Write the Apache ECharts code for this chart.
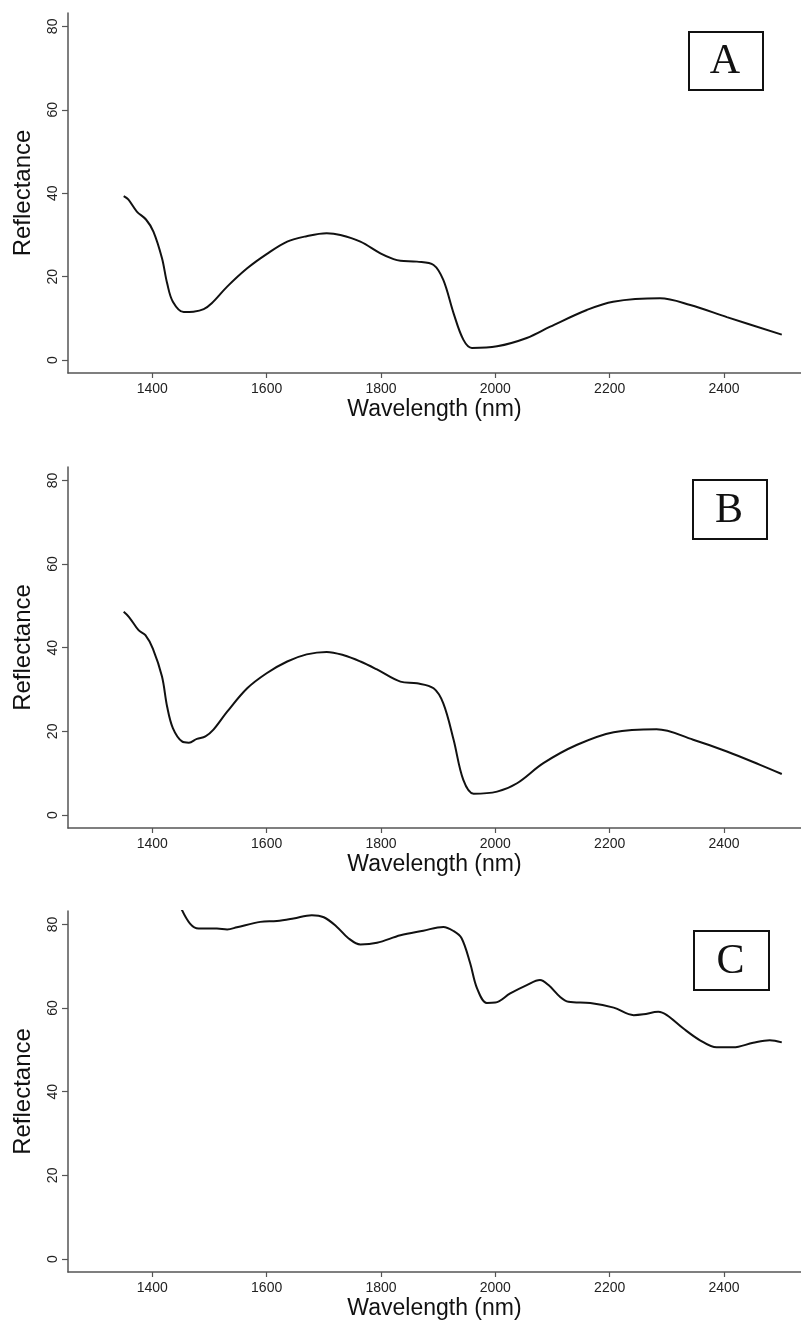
<!DOCTYPE html>
<html>
<head>
<meta charset="utf-8">
<script src="https://cdn.jsdelivr.net/npm/echarts@6/dist/echarts.min.js"></script>
<style>
html,body{margin:0;padding:0;background:#fff;}
#c{width:801px;height:1321px;}
</style>
</head>
<body>
<div id="c"></div>
<script>
// Panel A
var wlA  = [1350,1358,1373,1389,1402,1417,1426,1436,1455,1472,1490,1504,1531,1566,1600,1636,1670,1705,1729,1764,1799,1822,1834,1863,1892,1909,1927,1944,1959,2003,2055,2096,2160,2206,2288,2341,2405,2501];
var refA = [39.3,38.5,35.6,33.7,30.8,24.4,18.4,14.0,11.5,11.6,12.2,13.6,17.6,22.0,25.4,28.4,29.7,30.4,30.0,28.4,25.6,24.2,23.8,23.6,22.8,19.2,11.2,4.9,2.9,3.3,5.3,8.0,12.0,14.0,14.8,13.2,10.3,6.1];
// Panel B
var wlB  = [1350,1359,1376,1388,1401,1417,1426,1436,1452,1464,1478,1493,1507,1531,1566,1600,1636,1670,1705,1735,1764,1793,1834,1863,1892,1909,1927,1944,1962,2003,2038,2084,2143,2207,2282,2346,2405,2463,2501];
var refB = [48.6,47.4,44.2,43.0,39.8,33.1,25.9,20.8,17.6,17.3,18.2,18.8,20.4,24.7,30.3,33.9,36.7,38.4,39.0,38.2,36.7,34.8,31.9,31.5,30.3,26.7,18.0,8.4,5.1,5.6,7.6,12.4,16.8,19.8,20.5,18.0,15.2,12.0,9.8];
// Panel C
var wlC  = [1450,1466,1481,1513,1531,1548,1589,1618,1647,1679,1700,1723,1743,1764,1793,1834,1874,1909,1927,1941,1956,1968,1985,2000,2026,2055,2078,2093,2113,2128,2166,2207,2242,2259,2285,2300,2329,2358,2387,2416,2451,2480,2501];
var refC = [84.0,80.2,79.0,79.0,78.8,79.3,80.6,80.8,81.4,82.2,81.7,79.4,76.7,75.2,75.6,77.4,78.5,79.4,78.4,76.7,70.7,64.7,61.2,61.3,63.5,65.5,66.7,65.5,62.7,61.5,61.2,60.1,58.3,58.5,59.1,58.3,55.1,52.3,50.6,50.6,51.7,52.3,51.8];

var xTicks = [1400,1600,1800,2000,2200,2400];
var yTicks = [0,20,40,60,80];
var panelLabels = ['A','B','C'];
var xTitle = 'Wavelength (nm)';
var yTitle = 'Reflectance';

function zip(a,b){ return a.map(function(v,i){ return [v,b[i]]; }); }

var grids = [
  {left:68, right:0, top:13, height:360},
  {left:68, right:0, top:467, height:361},
  {left:68, right:0, top:911, height:361}
];
var axisColor = '#555';
var font = '"Liberation Sans", Arial, sans-serif';
function plain(v){ return String(v); }

var xAxes = grids.map(function(g,i){
  return {
    type:'value', gridIndex:i, min:1252.6, max:2534.6,
    axisLine:{show:true, onZero:false, lineStyle:{color:axisColor, width:1.5}},
    axisTick:{show:true, length:5, customValues:xTicks, lineStyle:{color:axisColor, width:1.2}},
    axisLabel:{customValues:xTicks, formatter:plain, margin:9, color:'#222', fontSize:14, fontFamily:font},
    splitLine:{show:false},
    name:xTitle, nameLocation:'middle', nameGap:25,
    nameTextStyle:{fontSize:23, color:'#111', fontFamily:font}
  };
});
var yAxes = grids.map(function(g,i){
  return {
    type:'value', gridIndex:i, min:-3.1, max:83.2,
    axisLine:{show:true, onZero:false, lineStyle:{color:axisColor, width:1.5}},
    axisTick:{show:true, length:6, customValues:yTicks, lineStyle:{color:axisColor, width:1.2}},
    axisLabel:{customValues:yTicks, formatter:plain, rotate:90, margin:8, color:'#222', fontSize:14, fontFamily:font},
    splitLine:{show:false},
    name:yTitle, nameLocation:'middle', nameRotate:90, nameGap:33,
    nameTextStyle:{fontSize:24, color:'#111', fontFamily:font}
  };
});
var datasets = [zip(wlA,refA), zip(wlB,refB), zip(wlC,refC)];
var series = datasets.map(function(d,i){
  return {
    type:'line', xAxisIndex:i, yAxisIndex:i, data:d, showSymbol:false,
    smooth:0.35, clip:true, lineStyle:{color:'#111', width:2}, silent:true
  };
});

var boxes = [
  {x:688, y:31, w:74, h:58},
  {x:692, y:479, w:74, h:59},
  {x:693, y:930, w:75, h:59}
];
var graphic = [];
boxes.forEach(function(b,i){
  graphic.push({type:'rect', left:b.x, top:b.y, shape:{width:b.w, height:b.h}, style:{fill:'#fff', stroke:'#111', lineWidth:2}});
  graphic.push({type:'text', x:b.x + b.w/2, y:b.y + b.h/2 + 2, style:{text:panelLabels[i], font:'42px "Liberation Serif", "Times New Roman", serif', fill:'#111', align:'center', verticalAlign:'middle'}});
});

var chart = echarts.init(document.getElementById('c'), null, {renderer:'canvas'});
chart.setOption({
  animation:false,
  backgroundColor:'#fff',
  grid:grids,
  xAxis:xAxes,
  yAxis:yAxes,
  series:series,
  graphic:graphic
});
</script>
</body>
</html>
